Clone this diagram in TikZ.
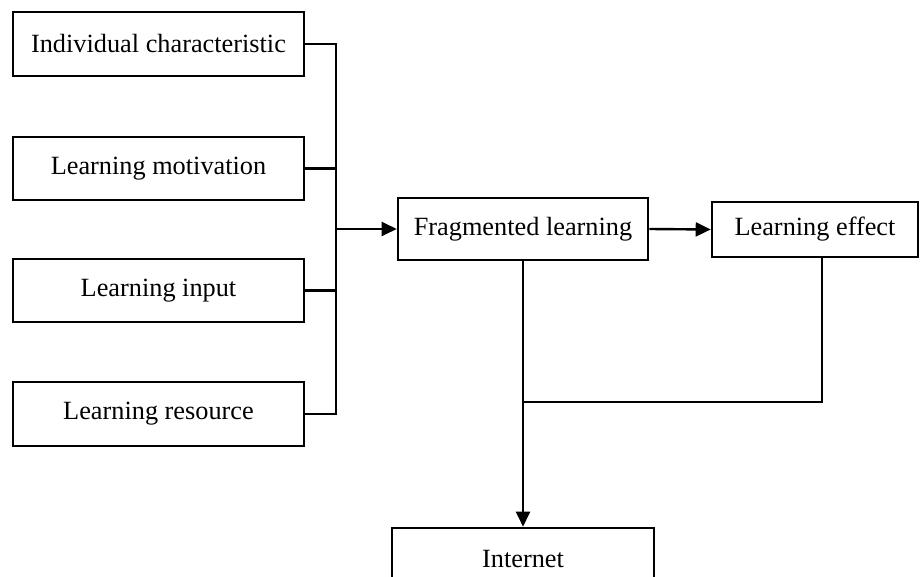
\documentclass[tikz,border=0pt]{standalone}
\usepackage{fontspec}
\setmainfont{Liberation Serif}
\usetikzlibrary{arrows.meta}
\begin{document}
\begin{tikzpicture}[x=1pt,y=-1pt,
  box/.style={draw,line width=2.6pt,inner sep=0pt,font=\fontsize{26.3}{31}\selectfont},
  conn/.style={line width=2.4pt},
  arr/.style={conn,-{Triangle[length=15pt,width=14pt]}}]
\clip (0,0) rectangle (921,577);
\fill[white] (0,0) rectangle (921,577);
\node[box,minimum width=291pt,minimum height=64pt] (b1) at (158.5,44) {Individual characteristic};
\node[box,minimum width=291pt,minimum height=63pt] (b2) at (158.5,168.5) {Learning motivation};
\node[box,minimum width=291pt,minimum height=63pt] (b3) at (158.5,290.5) {Learning input};
\node[box,minimum width=291pt,minimum height=64pt] (b4) at (158.5,414) {Learning resource};
\node[box,minimum width=250pt,minimum height=62pt] (frag) at (523,229) {Fragmented learning};
\node[box,minimum width=206pt,minimum height=55pt] (eff) at (815,229.5) {Learning effect};
\node[box,minimum width=262pt,minimum height=62pt] (inet) at (523,559) {Internet};
\coordinate (bt) at (336,44);
\coordinate (bb) at (336,414);
\coordinate (j) at (523,402);
\coordinate (ex) at (822,402);
\draw[conn] (b1.east) -- (bt) -- (bb) -- (b4.east);
\draw[conn] (b2.east) -- (b2.east -| bt);
\draw[conn] (b3.east) -- (b3.east -| bt);
\draw[arr] (frag.west -| bt) -- (frag.west);
\draw[arr] (frag.east) -- (eff.west);
\draw[arr] (frag.south) -- (inet.north);
\draw[conn] (eff.south -| ex) -- (ex) -- (j);
\end{tikzpicture}
\end{document}
